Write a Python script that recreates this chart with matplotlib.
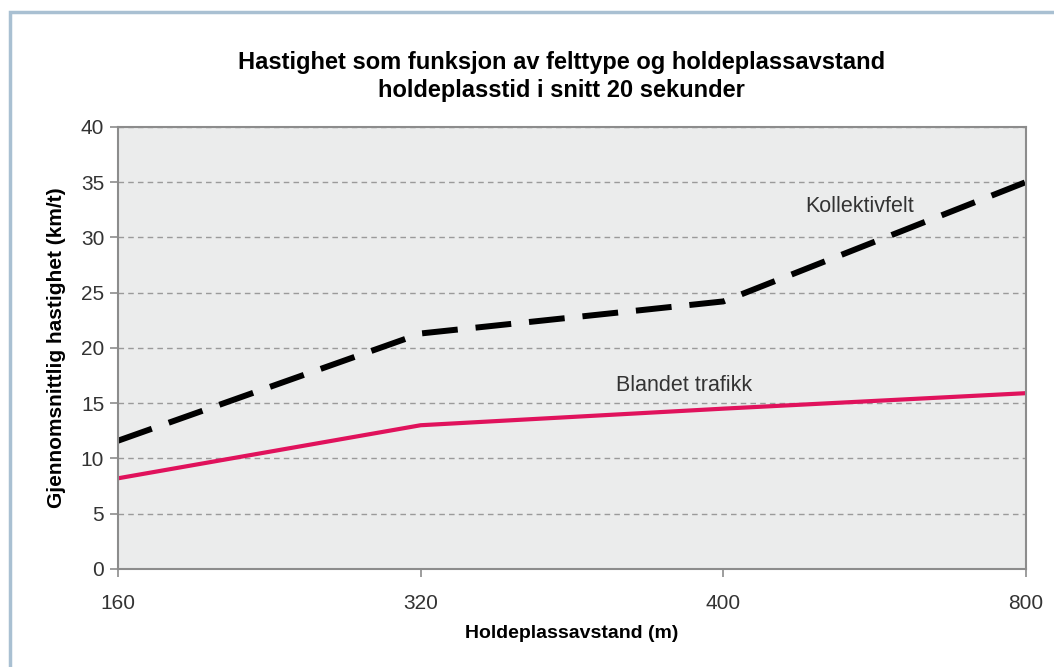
import matplotlib
matplotlib.use("Agg")
import matplotlib.pyplot as plt
from matplotlib.patches import Rectangle

plt.rcParams['font.family'] = ['Liberation Sans', 'DejaVu Sans']

avstand = ["160", "320", "400", "800"]
kollektivfelt = [11.6, 21.3, 24.2, 35.0]
blandet_trafikk = [8.2, 13.0, 14.5, 15.9]
y_ticks = [0, 5, 10, 15, 20, 25, 30, 35, 40]

fig = plt.figure(figsize=(10.54, 6.67), dpi=100)
fig.patches.append(Rectangle((0.0095, -0.05), 1.1, 1.032, transform=fig.transFigure,
                             fill=False, edgecolor="#a9c0d2", linewidth=2.5))

ax = fig.add_axes([0.112, 0.147, 0.8615, 0.663])
ax.set_facecolor("#ebecec")

x = list(range(len(avstand)))
ax.plot(x, kollektivfelt, color="black", linewidth=4.3, dashes=(6, 3), solid_capstyle="butt")
ax.plot(x, blandet_trafikk, color="#e0125c", linewidth=3)

ax.text(2.45, 32.8, "Kollektivfelt", ha="center", va="center", fontsize=15.5, color="#333333")
ax.text(1.87, 16.6, "Blandet trafikk", ha="center", va="center", fontsize=15.5, color="#333333")

ax.set_xlim(0, len(avstand) - 1)
ax.set_ylim(0, 40)
ax.set_xticks(x)
ax.set_xticklabels(avstand)
ax.set_yticks(y_ticks)
ax.yaxis.grid(True, color="#9a9a9a", linestyle=(0, (4, 3)), linewidth=1)
ax.set_axisbelow(True)

for side in ["left", "bottom", "right", "top"]:
    ax.spines[side].set_color("#8c8c8c")
    ax.spines[side].set_linewidth(1.5)

ax.tick_params(axis="both", colors="#8c8c8c", labelcolor="#333333", labelsize=15,
               length=6, width=1.2)
ax.tick_params(axis="y", pad=4)
ax.tick_params(axis="x", pad=12)

ax.set_xlabel("Holdeplassavstand (m)", fontsize=14, fontweight="bold", labelpad=9)
ax.set_ylabel("Gjennomsnittlig hastighet (km/t)", fontsize=15, fontweight="bold", labelpad=11)

fig.text(0.533, 0.886, "Hastighet som funksjon av felttype og holdeplassavstand\n"
         "holdeplasstid i snitt 20 sekunder", ha="center", va="center",
         fontsize=17, fontweight="bold", linespacing=1.28)

fig.savefig("out.png", dpi=100)
